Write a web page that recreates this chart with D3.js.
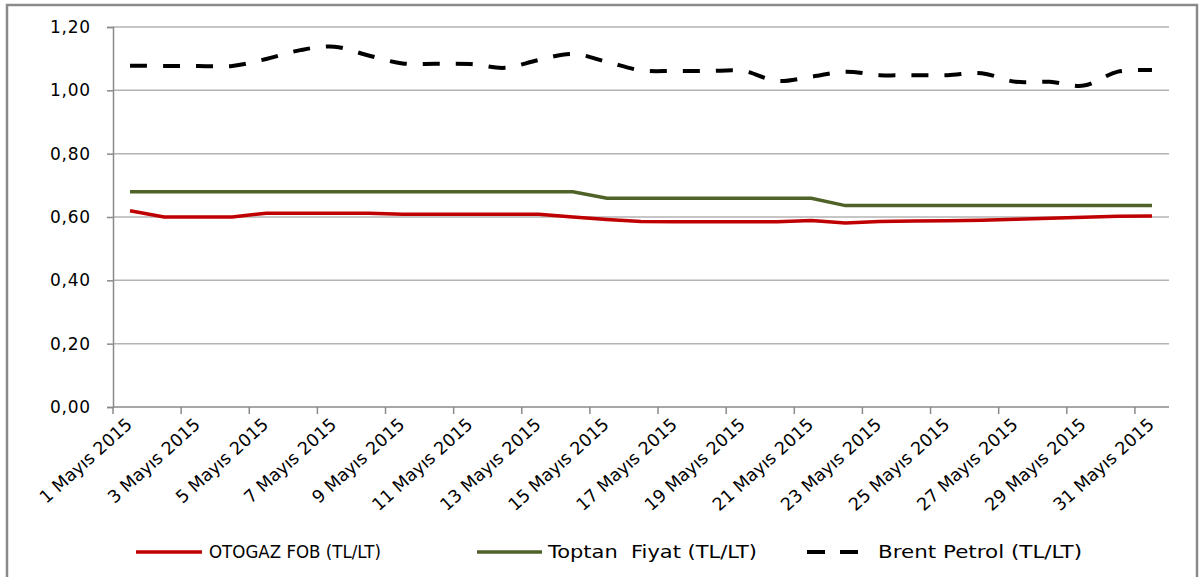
<!DOCTYPE html>
<html><head><meta charset="utf-8">
<script src="https://cdn.jsdelivr.net/npm/d3@7"></script>
<style>
body{margin:0;background:#fff;}
svg{display:block;}
text{font-family:"DejaVu Sans",sans-serif;fill:#000;}
</style></head>
<body>
<svg id="c" width="1201" height="577"></svg>
<script>
const days = d3.range(1, 32).map(d => d + " Mayıs 2015");
const otogaz = [0.620,0.600,0.600,0.600,0.612,0.612,0.612,0.612,0.609,0.609,0.609,0.609,0.609,0.600,0.592,0.586,0.585,0.585,0.585,0.585,0.589,0.581,0.586,0.587,0.588,0.590,0.593,0.596,0.599,0.602,0.603];
const toptan = [0.68,0.68,0.68,0.68,0.68,0.68,0.68,0.68,0.68,0.68,0.68,0.68,0.68,0.68,0.659,0.659,0.659,0.659,0.659,0.659,0.659,0.636,0.636,0.636,0.636,0.636,0.636,0.636,0.636,0.636,0.636];
const brent = [1.078,1.077,1.077,1.077,1.099,1.127,1.138,1.110,1.085,1.084,1.083,1.071,1.096,1.115,1.090,1.063,1.061,1.061,1.061,1.030,1.043,1.059,1.048,1.048,1.048,1.054,1.027,1.027,1.015,1.059,1.064];
const yTicks = [0,0.2,0.4,0.6,0.8,1.0,1.2];
const seriesNames = ["OTOGAZ FOB (TL/LT)", "Toptan  Fiyat (TL/LT)", "Brent Petrol (TL/LT)"];

const svg = d3.select("#c");
// outer border
svg.append("rect").attr("x",7).attr("y",5).attr("width",1190).attr("height",600)
  .attr("fill","none").attr("stroke","#8a8a8a").attr("stroke-width",2.5);

const L=113, R=1169, T=27, B=407;
const x = d3.scaleBand().domain(days).range([L,R]).paddingInner(0).paddingOuter(0);
const y = d3.scaleLinear().domain([0,1.2]).range([B,T]);
const cx = d => x(d) + x.bandwidth()/2;
const fmt = v => d3.format(".2f")(v).replace(".", ",");

// gridlines
svg.append("g").selectAll("line").data(yTicks.filter(v=>v>0)).join("line")
  .attr("x1",L).attr("x2",R).attr("y1",d=>y(d)).attr("y2",d=>y(d))
  .attr("stroke","#b3b3b3").attr("stroke-width",1.5);

// y axis
const ya = svg.append("g").attr("transform",`translate(${L},0)`)
  .call(d3.axisLeft(y).tickValues(yTicks).tickFormat(fmt).tickSize(6).tickPadding(16));
ya.select(".domain").attr("stroke","#8a8a8a").attr("stroke-width",1.5);
ya.selectAll(".tick line").attr("stroke","#8a8a8a").attr("stroke-width",1.5);
ya.selectAll("text").style("font-family","DejaVu Sans").style("font-size","17px").attr("fill","#000").attr("letter-spacing","0.8px");

// x axis
const xa = svg.append("g").attr("transform",`translate(0,${B})`);
xa.append("line").attr("x1",L).attr("x2",R).attr("stroke","#8a8a8a").attr("stroke-width",1.5);
const tickDays = days.filter((d,i)=>i%2===0);
xa.selectAll("line.tk").data(tickDays).join("line").attr("class","tk")
  .attr("x1",d=>x(d)).attr("x2",d=>x(d)).attr("y1",0).attr("y2",7)
  .attr("stroke","#8a8a8a").attr("stroke-width",1.5);
xa.selectAll("text").data(tickDays).join("text")
  .attr("transform",d=>`translate(${cx(d)-5},${10}) rotate(-42)`)
  .attr("text-anchor","end").attr("dy","0.7em")
  .style("font-size","17.5px").text(d=>d);

// lines
const lineLin = d3.line().x((d,i)=>cx(days[i])).y(d=>y(d));
const lineSmooth = d3.line().x((d,i)=>cx(days[i])).y(d=>y(d)).curve(d3.curveCatmullRom.alpha(0.5));
svg.append("path").attr("d",lineLin(toptan)).attr("fill","none").attr("stroke","#4f6228").attr("stroke-width",3.5);
svg.append("path").attr("d",lineLin(otogaz)).attr("fill","none").attr("stroke","#c00000").attr("stroke-width",3.5);
svg.append("path").attr("d",lineSmooth(brent)).attr("fill","none").attr("stroke","#000").attr("stroke-width",4)
  .attr("stroke-dasharray","17,16");

// legend
const lg = svg.append("g");
const ly = 552;
lg.append("line").attr("x1",136).attr("x2",202).attr("y1",ly).attr("y2",ly).attr("stroke","#c00000").attr("stroke-width",3.5);
lg.append("text").attr("x",209).attr("y",ly).attr("dy","0.35em").style("font-size","17px")
  .attr("textLength",172).attr("lengthAdjust","spacingAndGlyphs").text(seriesNames[0]);
lg.append("line").attr("x1",477).attr("x2",542).attr("y1",ly).attr("y2",ly).attr("stroke","#4f6228").attr("stroke-width",3.5);
lg.append("text").attr("x",548).attr("y",ly).attr("dy","0.35em").style("font-size","17px").style("white-space","pre")
  .attr("textLength",209).attr("lengthAdjust","spacingAndGlyphs").text(seriesNames[1]);
lg.append("line").attr("x1",807).attr("x2",859).attr("y1",ly).attr("y2",ly).attr("stroke","#000").attr("stroke-width",4).attr("stroke-dasharray","18,15");
lg.append("text").attr("x",878).attr("y",ly).attr("dy","0.35em").style("font-size","17px")
  .attr("textLength",204).attr("lengthAdjust","spacingAndGlyphs").text(seriesNames[2]);
</script>
</body></html>
